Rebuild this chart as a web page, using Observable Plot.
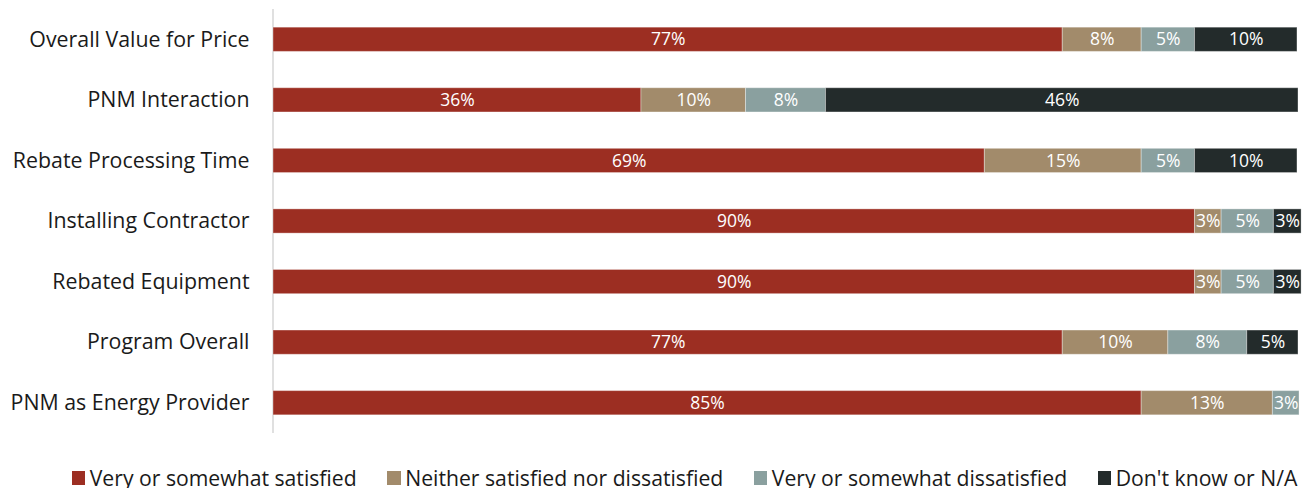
<!DOCTYPE html>
<html>
<head>
<meta charset="utf-8">
<script src="https://cdn.jsdelivr.net/npm/d3@7"></script>
<script src="https://cdn.jsdelivr.net/npm/@observablehq/plot@0.6"></script>
<style>
  body { margin: 0; background: #fff; font-family: "Open Sans", sans-serif; }
  #legend { display: flex; align-items: center; margin-top: 35px; padding-left: 71.7px; font-size: 21.2px; line-height: 20px; height: 20px; color: #1a1a1a; }
  .item { display: flex; align-items: center; margin-right: 30.5px; white-space: nowrap; }
  .sw { width: 13.5px; height: 13.5px; margin-right: 4.5px; flex: none; }
</style>
</head>
<body>
<div id="chart"></div>
<div id="legend"></div>
<script>
const categories = ["Overall Value for Price", "PNM Interaction", "Rebate Processing Time", "Installing Contractor", "Rebated Equipment", "Program Overall", "PNM as Energy Provider"];
const series = ["Very or somewhat satisfied", "Neither satisfied nor dissatisfied", "Very or somewhat dissatisfied", "Don't know or N/A"];
const colors = ["#9c2e22", "#a28b6b", "#8aa09f", "#232b2b"];
const satisfied = [77.0, 35.9, 69.4, 89.9, 89.9, 77.0, 84.7];
const neither = [7.7, 10.2, 15.3, 2.6, 2.6, 10.3, 12.8];
const dissatisfied = [5.2, 7.8, 5.2, 5.1, 5.1, 7.7, 2.6];
const dontKnow = [10.0, 46.1, 10.0, 2.7, 2.7, 5.0, 0];

const seriesValues = [satisfied, neither, dissatisfied, dontKnow];
const data = [];
categories.forEach((c, i) => {
  series.forEach((s, j) => {
    const v = seriesValues[j][i];
    if (v > 0) data.push({cat: c, series: s, value: v});
  });
});

const chart = Plot.plot({
  width: 1312,
  height: 433,
  marginLeft: 273,
  marginRight: 14,
  marginTop: 9,
  marginBottom: 0,
  style: {fontFamily: "'Open Sans', sans-serif", background: "#fff"},
  x: {domain: [0, 100], axis: null},
  y: {domain: categories, paddingInner: 0.6, paddingOuter: 0.3, round: false, axis: null},
  color: {domain: series, range: colors},
  marks: [
    Plot.ruleX([0], {stroke: "#d6d6d6", strokeWidth: 1.5, dx: -0.5}),
    Plot.barX(data, Plot.stackX({x: "value", y: "cat", fill: "series", z: "series", order: null, stroke: "#ffffff", strokeOpacity: 0.35, strokeWidth: 1})),
    Plot.textX(data, Plot.stackX({x: "value", y: "cat", z: "series", order: null, text: d => Math.round(d.value) + "%", fill: "#ffffff", fontSize: 17.5})),
    Plot.axisY({tickSize: 0, tickPadding: 24, fontSize: 21.35, label: null, color: "#1a1a1a"})
  ]
});
document.getElementById("chart").appendChild(chart);

const legend = document.getElementById("legend");
series.forEach((s, j) => {
  const it = document.createElement("div");
  it.className = "item";
  const sw = document.createElement("div");
  sw.className = "sw";
  sw.style.background = colors[j];
  const t = document.createElement("span");
  t.textContent = s;
  it.appendChild(sw);
  it.appendChild(t);
  legend.appendChild(it);
});
</script>
</body>
</html>
